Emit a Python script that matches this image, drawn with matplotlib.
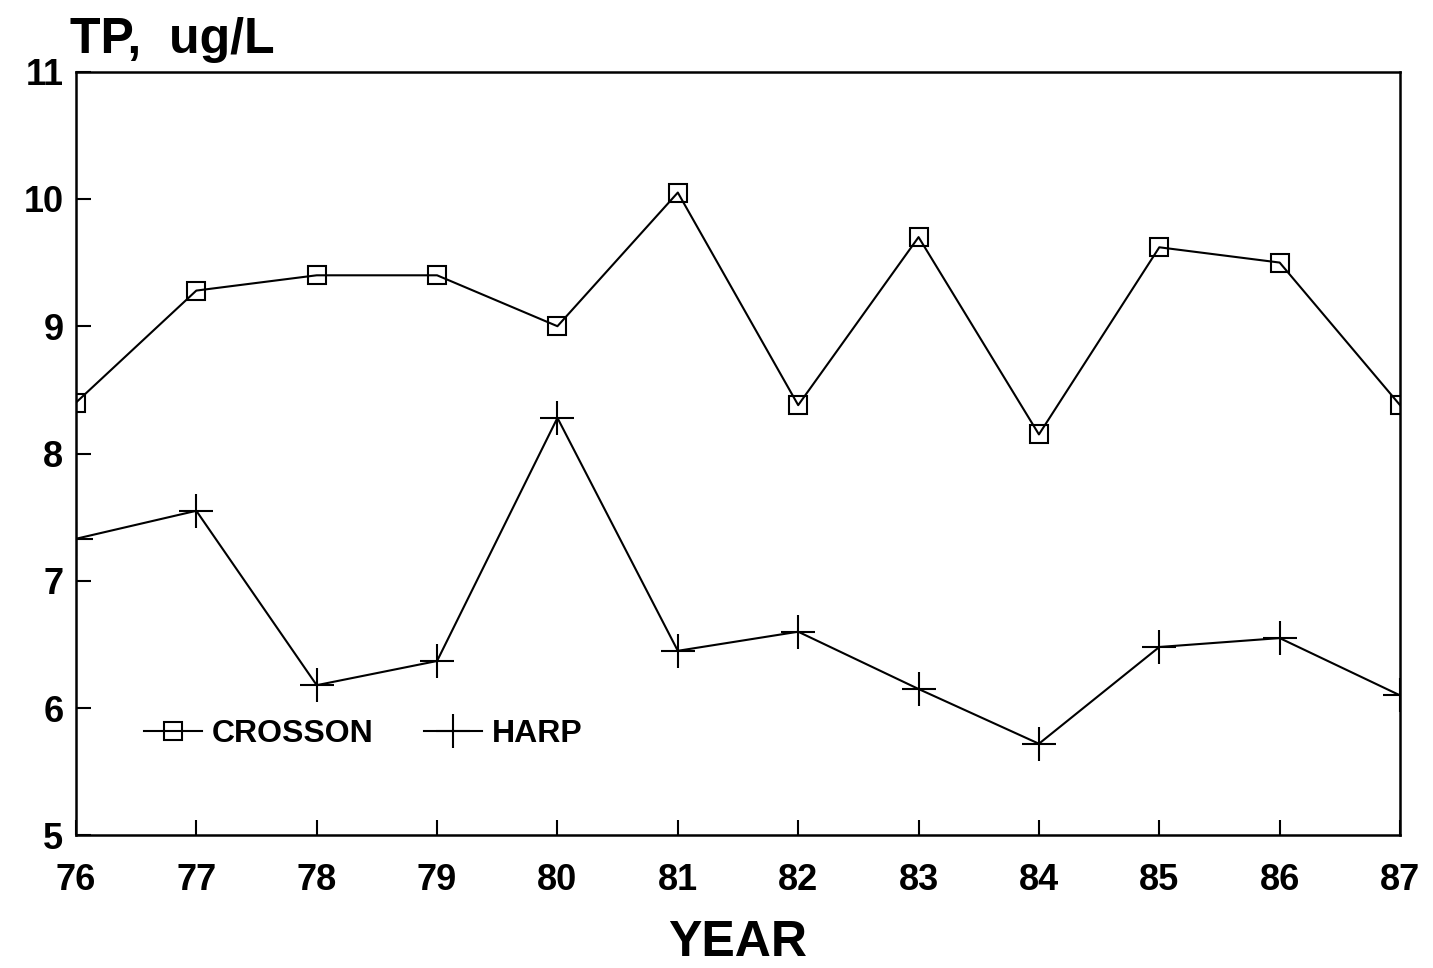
import numpy as np
from matplotlib import pyplot as plt

plt.rcParams['font.family'] = ['Liberation Sans', 'DejaVu Sans']
plt.rcParams['font.weight'] = 'bold'

years = [76, 77, 78, 79, 80, 81, 82, 83, 84, 85, 86, 87]
crosson = [8.4, 9.28, 9.4, 9.4, 9.0, 10.05, 8.38, 9.7, 8.15, 9.62, 9.5, 8.38]
harp = [7.33, 7.55, 6.18, 6.37, 8.28, 6.45, 6.6, 6.15, 5.72, 6.48, 6.55, 6.1]

fig = plt.figure(figsize=(14.33, 9.68), dpi=100)
ax = fig.add_axes([0.053, 0.137, 0.924, 0.789])

ax.plot(years, crosson, color="black", lw=1.5, marker="s", markersize=13,
        markerfacecolor="none", markeredgecolor="black", markeredgewidth=1.5, label="CROSSON")
ax.plot(years, harp, color="black", lw=1.5, marker="+", markersize=24,
        markeredgewidth=1.5, label="HARP")

ax.set_xlim(76, 87)
ax.set_ylim(5, 11)
ax.set_xticks(years)
ax.set_yticks(np.arange(5, 12, 1))
ax.tick_params(direction="in", length=11, width=1.5, labelsize=26)
ax.tick_params(axis="x", pad=20)
ax.tick_params(axis="y", pad=9)
for s in ax.spines.values():
    s.set_linewidth(1.8)

ax.set_xlabel("YEAR", fontsize=36, fontweight="bold", labelpad=16)
fig.text(0.049, 0.945, "TP,  ug/L", fontsize=36, fontweight="bold")

ax.legend(loc="lower left", bbox_to_anchor=(0.03, 0.075), ncol=2, frameon=False,
          fontsize=23, handlelength=1.8, columnspacing=1.6, handletextpad=0.3)

fig.savefig("out.png", dpi=100)
